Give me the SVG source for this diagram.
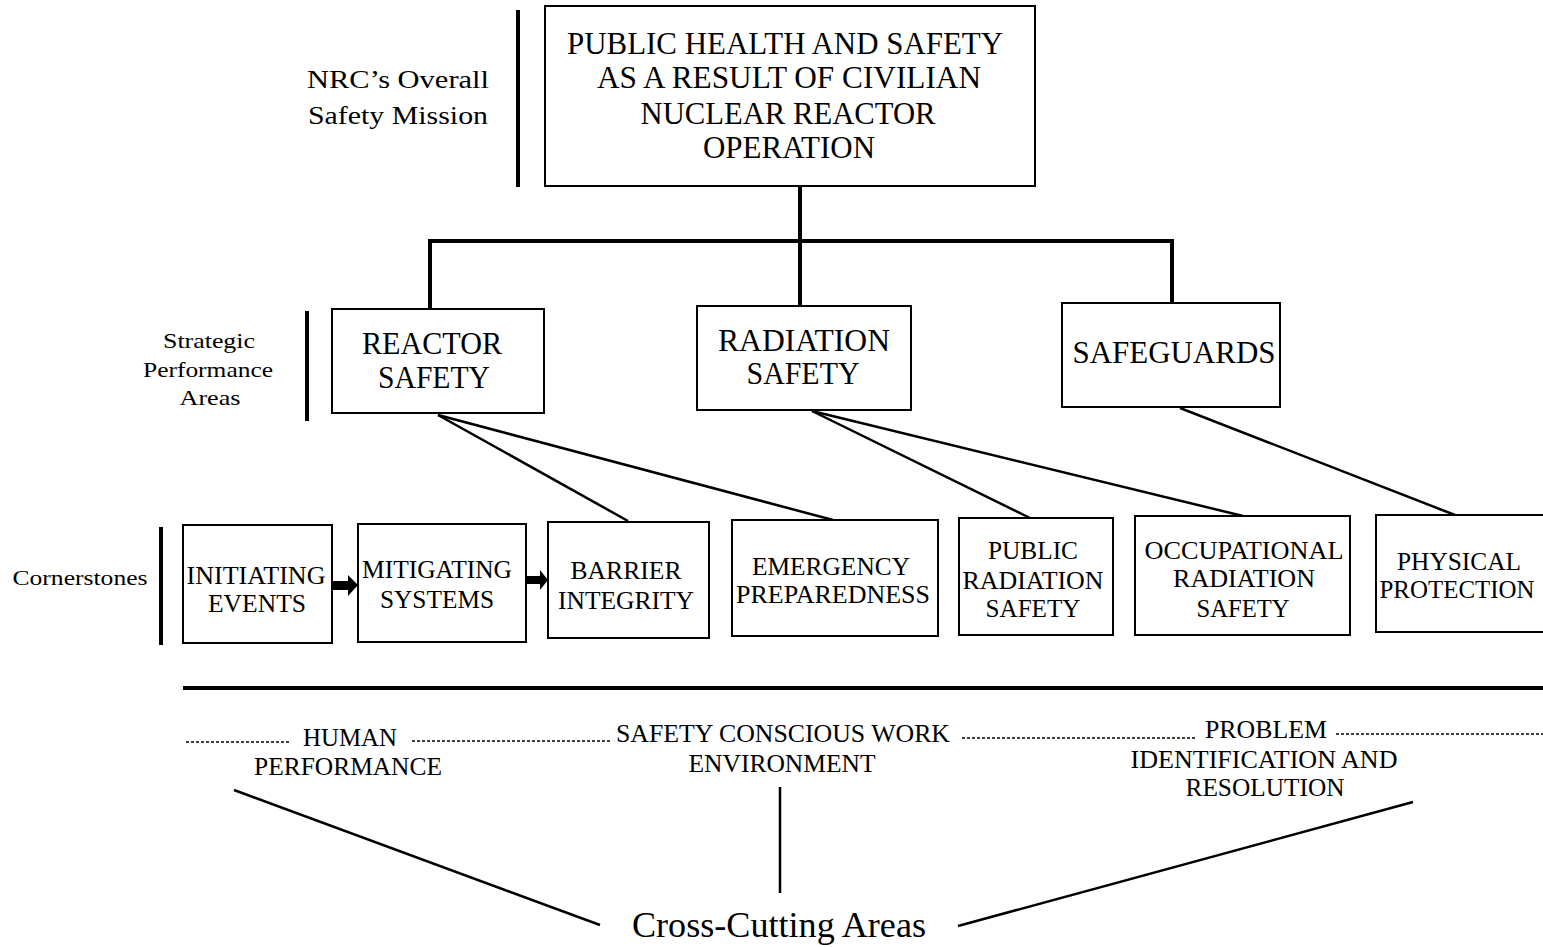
<svg xmlns="http://www.w3.org/2000/svg" width="1543" height="947" viewBox="0 0 1543 947">
<style>
text{font-family:"Liberation Serif","Times New Roman",serif;fill:#000;text-anchor:middle}
.box{fill:#fff;stroke:#000;stroke-width:2}
.t{font-size:31px}
.c{font-size:25px}
.l{font-size:26px}
.s{font-size:22px}
.bar{stroke:#000;stroke-width:4}
.con{stroke:#000;stroke-width:2.5;fill:none}
.tree{stroke:#000;stroke-width:4;fill:none}
.dash{stroke:#000;stroke-width:1.5;stroke-dasharray:3 2}
</style>
<rect width="1543" height="947" fill="#fff"/>
<g id="labels">
<line class="bar" x1="518" y1="10" x2="518" y2="187"/>
<text class="l" x="398" y="88" textLength="182" lengthAdjust="spacingAndGlyphs">NRC’s Overall</text>
<text class="l" x="398" y="124" textLength="180" lengthAdjust="spacingAndGlyphs">Safety Mission</text>
<line class="bar" x1="307" y1="311" x2="307" y2="421"/>
<text class="s" x="209" y="348" textLength="92" lengthAdjust="spacingAndGlyphs">Strategic</text>
<text class="s" x="208" y="377" textLength="130" lengthAdjust="spacingAndGlyphs">Performance</text>
<text class="s" x="210" y="405" textLength="61" lengthAdjust="spacingAndGlyphs">Areas</text>
<line class="bar" x1="161" y1="527" x2="161" y2="645"/>
<text class="s" x="80" y="585" textLength="135" lengthAdjust="spacingAndGlyphs">Cornerstones</text>
</g>
<g id="connectors">
<polyline class="tree" points="800,186 800,306"/>
<polyline class="tree" points="430,308 430,241 1172,241 1172,303"/>
<line class="con" x1="438" y1="415" x2="628" y2="521"/>
<line class="con" x1="438" y1="415" x2="833" y2="520"/>
<line class="con" x1="812" y1="411" x2="1030" y2="518"/>
<line class="con" x1="812" y1="411" x2="1243" y2="516"/>
<line class="con" x1="1180" y1="408" x2="1455" y2="515"/>
<polygon points="332,581 348,581 348,575 358,585 348,596 348,590 332,590" fill="#000"/>
<polygon points="526,576 540,576 540,570 548,580 540,590 540,584 526,584" fill="#000"/>
</g>
<g id="mission">
<rect class="box" x="545" y="6" width="490" height="180"/>
<text class="t" x="785" y="54" textLength="436" lengthAdjust="spacingAndGlyphs">PUBLIC HEALTH AND SAFETY</text>
<text class="t" x="789" y="88" textLength="384" lengthAdjust="spacingAndGlyphs">AS A RESULT OF CIVILIAN</text>
<text class="t" x="788" y="124" textLength="295" lengthAdjust="spacingAndGlyphs">NUCLEAR REACTOR</text>
<text class="t" x="789" y="158" textLength="172" lengthAdjust="spacingAndGlyphs">OPERATION</text>
</g>
<g id="reactor-safety">
<rect class="box" x="332" y="309" width="212" height="104"/>
<text class="t" x="432" y="354" textLength="140" lengthAdjust="spacingAndGlyphs">REACTOR</text>
<text class="t" x="434" y="388" textLength="112" lengthAdjust="spacingAndGlyphs">SAFETY</text>
</g>
<g id="radiation-safety">
<rect class="box" x="697" y="306" width="214" height="104"/>
<text class="t" x="804" y="351" textLength="172" lengthAdjust="spacingAndGlyphs">RADIATION</text>
<text class="t" x="803" y="384" textLength="113" lengthAdjust="spacingAndGlyphs">SAFETY</text>
</g>
<g id="safeguards">
<rect class="box" x="1062" y="303" width="218" height="104"/>
<text class="t" x="1174" y="363" textLength="203" lengthAdjust="spacingAndGlyphs">SAFEGUARDS</text>
</g>
<g id="initiating-events">
<rect class="box" x="183" y="525" width="149" height="118"/>
<text class="c" x="256" y="584" textLength="139" lengthAdjust="spacingAndGlyphs">INITIATING</text>
<text class="c" x="257" y="612" textLength="98" lengthAdjust="spacingAndGlyphs">EVENTS</text>
</g>
<g id="mitigating-systems">
<rect class="box" x="358" y="524" width="168" height="118"/>
<text class="c" x="437" y="578" textLength="150" lengthAdjust="spacingAndGlyphs">MITIGATING</text>
<text class="c" x="437" y="608" textLength="114" lengthAdjust="spacingAndGlyphs">SYSTEMS</text>
</g>
<g id="barrier-integrity">
<rect class="box" x="548" y="522" width="161" height="116"/>
<text class="c" x="626" y="579" textLength="111" lengthAdjust="spacingAndGlyphs">BARRIER</text>
<text class="c" x="626" y="609" textLength="136" lengthAdjust="spacingAndGlyphs">INTEGRITY</text>
</g>
<g id="emergency-preparedness">
<rect class="box" x="732" y="520" width="206" height="116"/>
<text class="c" x="831" y="575" textLength="158" lengthAdjust="spacingAndGlyphs">EMERGENCY</text>
<text class="c" x="833" y="603" textLength="194" lengthAdjust="spacingAndGlyphs">PREPAREDNESS</text>
</g>
<g id="public-radiation-safety">
<rect class="box" x="959" y="518" width="154" height="117"/>
<text class="c" x="1033" y="559" textLength="90" lengthAdjust="spacingAndGlyphs">PUBLIC</text>
<text class="c" x="1033" y="589" textLength="141" lengthAdjust="spacingAndGlyphs">RADIATION</text>
<text class="c" x="1033" y="617" textLength="95" lengthAdjust="spacingAndGlyphs">SAFETY</text>
</g>
<g id="occupational-radiation-safety">
<rect class="box" x="1135" y="516" width="215" height="119"/>
<text class="c" x="1244" y="559" textLength="199" lengthAdjust="spacingAndGlyphs">OCCUPATIONAL</text>
<text class="c" x="1244" y="587" textLength="142" lengthAdjust="spacingAndGlyphs">RADIATION</text>
<text class="c" x="1243" y="617" textLength="93" lengthAdjust="spacingAndGlyphs">SAFETY</text>
</g>
<g id="physical-protection">
<rect class="box" x="1376" y="515" width="175" height="117"/>
<text class="c" x="1459" y="570" textLength="124" lengthAdjust="spacingAndGlyphs">PHYSICAL</text>
<text class="c" x="1457" y="598" textLength="155" lengthAdjust="spacingAndGlyphs">PROTECTION</text>
</g>
<g id="cross-cutting">
<line x1="183" y1="688" x2="1543" y2="688" stroke="#000" stroke-width="4"/>
<line class="dash" x1="186" y1="742" x2="290" y2="742"/>
<text class="c" x="350" y="746" textLength="94" lengthAdjust="spacingAndGlyphs">HUMAN</text>
<line class="dash" x1="412" y1="741" x2="610" y2="741"/>
<text class="c" x="783" y="742" textLength="334" lengthAdjust="spacingAndGlyphs">SAFETY CONSCIOUS WORK</text>
<line class="dash" x1="962" y1="738" x2="1196" y2="738"/>
<text class="c" x="1266" y="738" textLength="122" lengthAdjust="spacingAndGlyphs">PROBLEM</text>
<line class="dash" x1="1336" y1="734" x2="1543" y2="734"/>
<text class="c" x="348" y="775" textLength="188" lengthAdjust="spacingAndGlyphs">PERFORMANCE</text>
<text class="c" x="782" y="772" textLength="187" lengthAdjust="spacingAndGlyphs">ENVIRONMENT</text>
<text class="c" x="1264" y="768" textLength="267" lengthAdjust="spacingAndGlyphs">IDENTIFICATION AND</text>
<text class="c" x="1265" y="796" textLength="159" lengthAdjust="spacingAndGlyphs">RESOLUTION</text>
<line class="con" x1="234" y1="790" x2="600" y2="925" stroke-width="1.5"/>
<line class="con" x1="780" y1="787" x2="780" y2="893"/>
<line class="con" x1="1413" y1="802" x2="958" y2="926" stroke-width="1.5"/>
<text x="779" y="937" style="font-size:35px" textLength="294" lengthAdjust="spacingAndGlyphs">Cross-Cutting Areas</text>
</g>
</svg>
